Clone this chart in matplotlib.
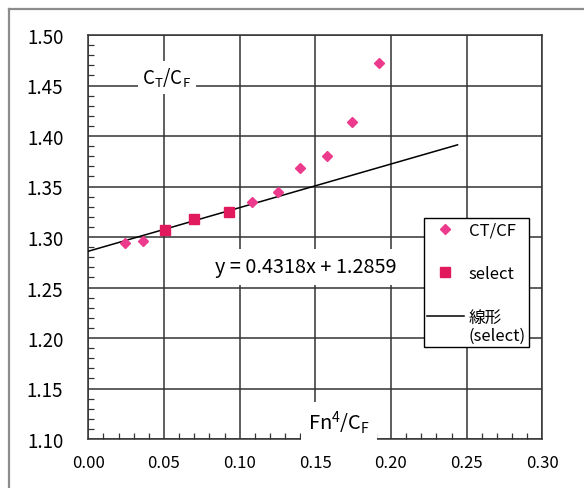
import matplotlib.pyplot as plt
from matplotlib.lines import Line2D
from matplotlib.legend_handler import HandlerLine2D
from matplotlib.ticker import MultipleLocator
import numpy as np

plt.rcParams['font.family'] = ['Noto Sans CJK JP', 'DejaVu Sans']
plt.rcParams['mathtext.fontset'] = 'custom'
plt.rcParams['mathtext.rm'] = 'Noto Sans CJK JP'
plt.rcParams['mathtext.it'] = 'Noto Sans CJK JP'

# Data
ct_x = [0.0242, 0.0361, 0.0505, 0.0698, 0.0929, 0.1081, 0.1253, 0.1396, 0.1579, 0.1744, 0.1918]
ct_y = [1.294, 1.296, 1.307, 1.318, 1.325, 1.335, 1.345, 1.368, 1.380, 1.414, 1.472]
sel_x = [0.0505, 0.0698, 0.0929]
sel_y = [1.307, 1.318, 1.325]
slope = 0.4318
intercept = 1.2859
fit_x = [0.0, 0.244]


class HandlerLineUp(HandlerLine2D):
    # put the legend line on the first line of a two-line label
    def create_artists(self, legend, orig_handle, xdescent, ydescent, width, height, fontsize, trans):
        arts = super().create_artists(legend, orig_handle, xdescent, ydescent, width, height, fontsize, trans)
        for a in arts:
            a.set_ydata(np.asarray(a.get_ydata()) + 0.65 * fontsize)
        return arts


fig = plt.figure(figsize=(5.84, 4.89), dpi=100)
ax = fig.add_axes([88.3 / 584, 1 - 440 / 489, 454 / 584, 404 / 489])

# outer frame (left and top edges)
fig.add_artist(Line2D([8.5 / 584, 8.5 / 584], [0, 1 - 10 / 489], color='#8c8c8c', lw=1.6))
fig.add_artist(Line2D([8.5 / 584, 1], [1 - 10 / 489, 1 - 10 / 489], color='#8c8c8c', lw=1.6))

fx = np.array(fit_x)
fit_line, = ax.plot(fx, slope * fx + intercept, color='black', lw=1.1, zorder=3)
ct_pts, = ax.plot(ct_x, ct_y, linestyle='none', marker='D', ms=5.5, color='#EC3A8C', zorder=4)
sel_pts, = ax.plot(sel_x, sel_y, linestyle='none', marker='s', ms=7.3, color='#E01A5C', zorder=5)

ax.set_xlim(0, 0.30)
ax.set_ylim(1.10, 1.50)
ax.xaxis.set_major_locator(MultipleLocator(0.05))
ax.yaxis.set_major_locator(MultipleLocator(0.05))
ax.xaxis.set_minor_locator(MultipleLocator(0.01))
ax.yaxis.set_minor_locator(MultipleLocator(0.01))
ax.xaxis.set_major_formatter(lambda v, p: f'{v:.2f}')
ax.yaxis.set_major_formatter(lambda v, p: f'{v:.2f}')
ax.tick_params(axis='both', which='major', length=0)
ax.tick_params(axis='y', which='major', pad=18, labelsize=13.5)
ax.tick_params(axis='x', which='major', pad=11, labelsize=12)
ax.tick_params(axis='both', which='minor', direction='in', length=4, width=0.9, color='#333333')
ax.grid(True, which='major', color='#333333', lw=1.1)
for s in ax.spines.values():
    s.set_color('#333333')
    s.set_linewidth(1.1)

# in-plot labels with white boxes
ax.text(0.0518, 1.458, r'C$_\mathrm{T}$/C$_\mathrm{F}$', fontsize=13.5, ha='center', va='center',
        bbox=dict(boxstyle='square,pad=0.25', fc='white', ec='none'), zorder=6)
ax.text(0.1438, 1.2703, 'y = 0.4318x + 1.2859', fontsize=14.3, ha='center', va='center',
        bbox=dict(boxstyle='square,pad=0.4', fc='white', ec='none'), zorder=6)
ax.text(0.1656, 1.1165, r'Fn$^4$/C$_\mathrm{F}$', fontsize=14.5, ha='center', va='center',
        bbox=dict(boxstyle='square,pad=0.35', fc='white', ec='none'), zorder=6)

leg = ax.legend([ct_pts, sel_pts, fit_line], ['CT/CF', 'select', '線形\n(select)'],
                handler_map={fit_line: HandlerLineUp()},
                loc='upper left', bbox_to_anchor=(0.739, 0.547), fontsize=12,
                frameon=True, fancybox=False, framealpha=1, edgecolor='black',
                borderpad=0.2, labelspacing=1.6, handlelength=2.2, handletextpad=0.3,
                borderaxespad=0)
leg.get_texts()[2].set_linespacing(1.1)
leg.get_frame().set_linewidth(1.0)
leg.set_zorder(7)

fig.savefig('out.png', dpi=100)
